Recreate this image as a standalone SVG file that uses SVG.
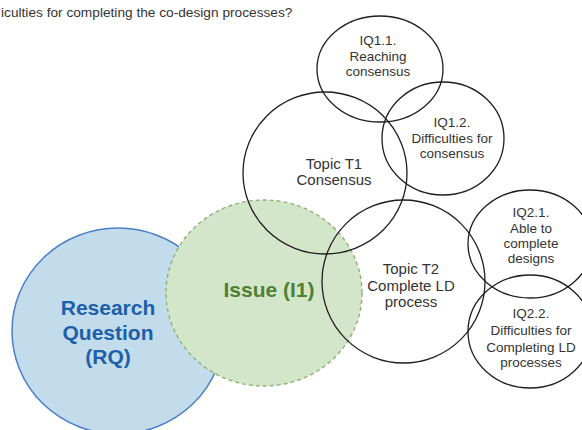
<svg xmlns="http://www.w3.org/2000/svg" width="582" height="430" viewBox="0 0 582 430">
<style>
  .o { fill: none; stroke: #1e1e1e; stroke-width: 1.3; }
  .t { font-family: "Liberation Sans", Arial, sans-serif; fill: #333333; text-anchor: middle; }
  .s { font-size: 13.5px; }
  .m { font-size: 15px; }
  .b { font-family: "Liberation Sans", Arial, sans-serif; font-weight: bold; font-size: 21px; text-anchor: middle; }
</style>
<rect width="582" height="430" fill="#ffffff"/>
<text x="1" y="17" font-family="Liberation Sans, Arial, sans-serif" font-size="13.7" fill="#333333">iculties for completing the co-design processes?</text>
<g id="connectors"></g>
<g id="rq">
  <ellipse cx="118" cy="331" rx="106" ry="103" fill="#c2dcec" stroke="#4a7fc6" stroke-width="1.5"/>
  <text class="b" fill="#1d5fa8" x="108" y="315">Research</text>
  <text class="b" fill="#1d5fa8" x="108" y="340">Question</text>
  <text class="b" fill="#1d5fa8" x="108" y="364">(RQ)</text>
</g>
<g id="issue">
  <ellipse cx="264" cy="293" rx="98" ry="93" fill="#d4e6c9" stroke="#8fb075" stroke-width="1.4" stroke-dasharray="4 3"/>
  <text class="b" fill="#4e7f34" x="269" y="297">Issue (I1)</text>
</g>
<g id="t1">
  <ellipse class="o" cx="325" cy="173" rx="82" ry="81"/>
  <text class="t m" x="334" y="169">Topic T1</text>
  <text class="t m" x="334" y="185">Consensus</text>
</g>
<g id="iq11">
  <ellipse class="o" cx="380" cy="69" rx="63" ry="53"/>
  <text class="t s" x="378" y="45">IQ1.1.</text>
  <text class="t s" x="378" y="61">Reaching</text>
  <text class="t s" x="378" y="76">consensus</text>
</g>
<g id="iq12">
  <ellipse class="o" cx="443" cy="138.5" rx="61" ry="56.5"/>
  <text class="t s" x="452" y="127">IQ1.2.</text>
  <text class="t s" x="452" y="143">Difficulties for</text>
  <text class="t s" x="452" y="158">consensus</text>
</g>
<g id="t2">
  <ellipse class="o" cx="403.5" cy="281.5" rx="81.5" ry="81.5"/>
  <text class="t m" x="411" y="274">Topic T2</text>
  <text class="t m" x="411" y="290.5">Complete LD</text>
  <text class="t m" x="411" y="307">process</text>
</g>
<g id="iq21">
  <ellipse class="o" cx="530" cy="244" rx="62" ry="54"/>
  <text class="t s" x="531" y="217">IQ2.1.</text>
  <text class="t s" x="531" y="232.5">Able to</text>
  <text class="t s" x="531" y="248">complete</text>
  <text class="t s" x="531" y="263">designs</text>
</g>
<g id="iq22">
  <ellipse class="o" cx="530" cy="331.5" rx="62" ry="56.5"/>
  <text class="t s" x="531" y="318">IQ2.2.</text>
  <text class="t s" x="531" y="335">Difficulties for</text>
  <text class="t s" x="531" y="351.5">Completing LD</text>
  <text class="t s" x="531" y="367">processes</text>
</g>
</svg>
